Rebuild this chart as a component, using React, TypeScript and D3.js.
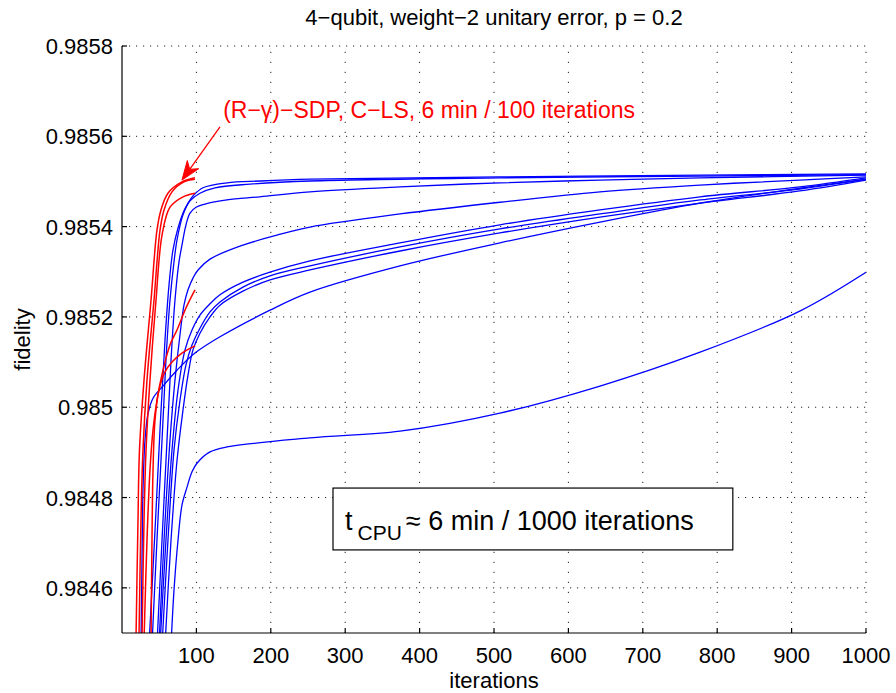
import React from "react";
import * as d3 from "d3";

type P = [number, number];

const xTicks = [100, 200, 300, 400, 500, 600, 700, 800, 900, 1000];
const yTicks = [0.9846, 0.9848, 0.985, 0.9852, 0.9854, 0.9856, 0.9858];
const yTickLabels = ["0.9846", "0.9848", "0.985", "0.9852", "0.9854", "0.9856", "0.9858"];

const titleText = "4\u2212qubit, weight\u22122 unitary error, p = 0.2";
const xLabel = "iterations";
const yLabel = "fidelity";
const redNote = "(R\u2212\u03b3)\u2212SDP, C\u2212LS, 6 min / 100 iterations";

// red curves: (R-gamma)-SDP, C-LS
const red1: P[] = [[18.8,0.984484],[21.5,0.98475],[23.5,0.984905],[29.6,0.98506],[39,0.985237],[47,0.985392],[52.4,0.985437],[61.8,0.985474],[80.6,0.985499],[98.1,0.985508]];
const red2: P[] = [[22.8,0.984484],[25.5,0.98475],[28.2,0.984905],[33.6,0.98506],[43,0.985237],[51.1,0.985392],[56.5,0.985437],[67.2,0.985477],[83.3,0.985499],[98.1,0.985505]];
const red3: P[] = [[26.9,0.984484],[29.6,0.98475],[32.3,0.984905],[37.6,0.98506],[45.7,0.985237],[53.8,0.985381],[64.5,0.985443],[82,0.985466],[98.1,0.985474]];
const red4: P[] = [[29.6,0.984484],[33.6,0.984706],[37.6,0.984861],[41.7,0.98495],[47,0.985016],[55.1,0.985082],[64.5,0.985138],[73.9,0.985171],[86,0.98522],[98.1,0.98526]];
const red5: P[] = [[39,0.984484],[40.3,0.984706],[41.7,0.984861],[44.4,0.984972],[49.7,0.985038],[57.8,0.985078],[67.2,0.9851],[80.6,0.98512],[98.1,0.985136]];

// blue curves
const blue1: P[] = [[65.9,0.984473],[69.9,0.984595],[75.3,0.984706],[80.6,0.984783],[87.4,0.984823],[94.1,0.984857],[100.8,0.984876],[118.3,0.984901],[141.1,0.984912],[252.7,0.984932],[373.7,0.984947],[508,0.984987],[642.5,0.985047],[777,0.985122],[911,0.985213],[1000,0.985299]];
const blue2: P[] = [[25.5,0.984473],[26.9,0.984662],[28.2,0.984817],[30.9,0.984927],[34.9,0.984985],[41.7,0.98502],[55.1,0.985047],[73.9,0.985082],[98.1,0.98512],[131.7,0.985156],[198.9,0.985215],[252.7,0.985255],[373.7,0.985313],[508,0.985364],[642.5,0.98541],[777,0.985452],[911,0.985485],[1000,0.985505]];
const blue3: P[] = [[36.3,0.984473],[44.4,0.984728],[51.1,0.98495],[57.8,0.985149],[63.2,0.985271],[68.5,0.985348],[75.3,0.985397],[82,0.98543],[88.7,0.985452],[95.4,0.985468],[108.9,0.985486],[141.1,0.985497],[185.5,0.985501],[252.7,0.985505],[508,0.98551],[777,0.985514],[1000,0.985517]];
const blue4: P[] = [[40.3,0.984473],[47,0.984706],[53.8,0.984927],[59.1,0.985105],[64.5,0.985237],[69.9,0.985322],[73.9,0.98537],[82,0.985426],[91.4,0.985457],[104.8,0.985474],[125,0.985486],[172,0.985494],[252.7,0.985501],[508,0.985508],[777,0.985512],[1000,0.985515]];
const blue5: P[] = [[47,0.984473],[53.8,0.984706],[60.5,0.984927],[65.9,0.985105],[71.2,0.985237],[76.6,0.985322],[80.6,0.985359],[86,0.985404],[91.4,0.98543],[99.5,0.985443],[111.6,0.98545],[141.1,0.985459],[185.5,0.985466],[252.7,0.985477],[373.7,0.985488],[508,0.985497],[642.5,0.985503],[777,0.985508],[1000,0.985514]];
const blue6: P[] = [[49.7,0.984473],[56.5,0.984706],[64.5,0.984927],[71.2,0.98506],[77.9,0.98516],[83.3,0.985226],[88.7,0.98526],[95.4,0.985286],[102.2,0.985304],[118.3,0.985328],[162.6,0.985359],[208.3,0.985381],[252.7,0.985399],[373.7,0.985428],[508,0.985454],[642.5,0.985477],[777,0.985492],[911,0.985503],[1000,0.98551]];
const blue7: P[] = [[51.1,0.984473],[59.1,0.984706],[67.2,0.984905],[75.3,0.985038],[84.7,0.985127],[94.1,0.985171],[104.8,0.985204],[118.3,0.985229],[131.7,0.985249],[162.6,0.985277],[198.9,0.985299],[252.7,0.985324],[373.7,0.985364],[508,0.985404],[642.5,0.985437],[777,0.985466],[911,0.985488],[1000,0.985508]];
const blue8: P[] = [[53.8,0.984473],[61.8,0.984706],[69.9,0.984905],[78,0.985016],[86,0.985094],[94.1,0.985138],[104.8,0.985175],[118.3,0.985211],[131.7,0.985233],[162.6,0.985266],[198.9,0.985291],[252.7,0.985313],[373.7,0.985355],[508,0.985395],[642.5,0.985428],[777,0.985459],[911,0.985483],[1000,0.985505]];
const blue9: P[] = [[57.8,0.984473],[65.9,0.984706],[74,0.984883],[82,0.984994],[88.7,0.985071],[95.4,0.985127],[104.8,0.985164],[118.3,0.9852],[131.7,0.985226],[162.6,0.985257],[198.9,0.985282],[252.7,0.985304],[373.7,0.985346],[508,0.985386],[642.5,0.985421],[777,0.985452],[911,0.985479],[1000,0.985503]];

const blueSeries = [blue1, blue2, blue3, blue4, blue5, blue6, blue7, blue8, blue9];
const redSeries = [red1, red2, red3, red4, red5];

// annotation anchors in data coordinates
const noteAt: P = [136, 0.985641];
const arrowFrom: P = [131.7, 0.985621];
const arrowTo: P = [80.6, 0.985503];
const boxFrom: P = [283.6, 0.984821];
const boxTo: P = [821, 0.984684];

const FONT = "'Liberation Sans', Arial, Helvetica, sans-serif";

export default function App() {
  const W = 896, H = 693;
  const left = 122, right = 866, top = 46, bottom = 633;
  const x = d3.scaleLinear().domain([0, 1000]).range([left, right]);
  const y = d3.scaleLinear().domain([0.9845, 0.9858]).range([bottom, top]);
  const line = d3.line<P>().x(d => x(d[0])).y(d => y(d[1])).curve(d3.curveCatmullRom.alpha(0.5));

  // arrow geometry
  const ax0 = x(arrowFrom[0]), ay0 = y(arrowFrom[1]);
  const ax1 = x(arrowTo[0]), ay1 = y(arrowTo[1]);
  const ang = Math.atan2(ay1 - ay0, ax1 - ax0);
  const hl = 19, hw = 7;
  const ux = Math.cos(ang), uy = Math.sin(ang);
  const bx = ax1 - ux * hl, by = ay1 - uy * hl;
  const nx = ax1 - ux * hl * 0.7, ny = ay1 - uy * hl * 0.7;
  const head = [
    [ax1, ay1],
    [bx - uy * hw, by + ux * hw],
    [nx, ny],
    [bx + uy * hw, by - ux * hw],
  ].map(p => p.join(",")).join(" ");

  const bx0 = x(boxFrom[0]), by0 = y(boxFrom[1]);

  return (
    <svg width={W} height={H} style={{ position: "absolute", left: 0, top: 0, display: "block", background: "#fff" }} fontFamily={FONT}>
      <defs>
        <clipPath id="plotclip">
          <rect x={left} y={top} width={right - left} height={bottom - top} />
        </clipPath>
      </defs>
      <rect x={0} y={0} width={W} height={H} fill="#fff" />
      {/* grid */}
      <g stroke="#222" strokeWidth={1} fill="none">
        {xTicks.map(t => (
          <line key={"gx" + t} x1={x(t)} x2={x(t)} y1={bottom} y2={top} strokeDasharray="1.2,8.8" />
        ))}
        {yTicks.map(t => (
          <line key={"gy" + t} x1={left} x2={right} y1={y(t)} y2={y(t)} strokeDasharray="1.2,5.8" />
        ))}
      </g>
      {/* curves */}
      <g clipPath="url(#plotclip)" fill="none">
        {blueSeries.map((s, i) => (
          <path key={"b" + i} d={line(s) || ""} stroke="#0000ff" strokeWidth={1.3} />
        ))}
        {redSeries.map((s, i) => (
          <path key={"r" + i} d={line(s) || ""} stroke="#ff0000" strokeWidth={1.5} />
        ))}
      </g>
      {/* axes */}
      <g stroke="#000" strokeWidth={1.2} fill="none">
        <line x1={left} x2={left} y1={top} y2={bottom} />
        <line x1={left} x2={right} y1={bottom} y2={bottom} />
        {xTicks.map(t => (
          <line key={"tx" + t} x1={x(t)} x2={x(t)} y1={bottom} y2={bottom - 5} />
        ))}
        {yTicks.map(t => (
          <line key={"ty" + t} x1={left} x2={left + 5} y1={y(t)} y2={y(t)} />
        ))}
      </g>
      <g fontSize={22} fill="#000">
        {xTicks.map(t => (
          <text key={"lx" + t} x={x(t)} y={bottom + 30} textAnchor="middle">{t}</text>
        ))}
        {yTicks.map((t, i) => (
          <text key={"ly" + t} x={left - 9} y={y(t) + 8} textAnchor="end">{yTickLabels[i]}</text>
        ))}
        <text x={(left + right) / 2} y={bottom + 55} textAnchor="middle">{xLabel}</text>
        <text transform={`translate(30,${(top + bottom) / 2}) rotate(-90)`} textAnchor="middle">{yLabel}</text>
        <text x={(left + right) / 2} y={25} textAnchor="middle">{titleText}</text>
      </g>
      {/* red annotation */}
      <text x={x(noteAt[0])} y={y(noteAt[1])} fontSize={23} fill="#ff0000">{redNote}</text>
      <line x1={ax0} y1={ay0} x2={nx} y2={ny} stroke="#ff0000" strokeWidth={1.3} />
      <polygon points={head} fill="#ff0000" stroke="#ff0000" strokeWidth={1} />
      {/* CPU time box */}
      <rect x={bx0} y={by0} width={x(boxTo[0]) - bx0} height={y(boxTo[1]) - by0} fill="#fff" stroke="#000" strokeWidth={1.2} />
      <text x={bx0 + 12} y={by0 + 42} fontSize={27} fill="#000">
        t
        <tspan fontSize={21} dx={5} dy={10}>CPU</tspan>
        <tspan fontSize={27} dx={4} dy={-10}>{"\u2248 6 min / 1000 iterations"}</tspan>
      </text>
    </svg>
  );
}
